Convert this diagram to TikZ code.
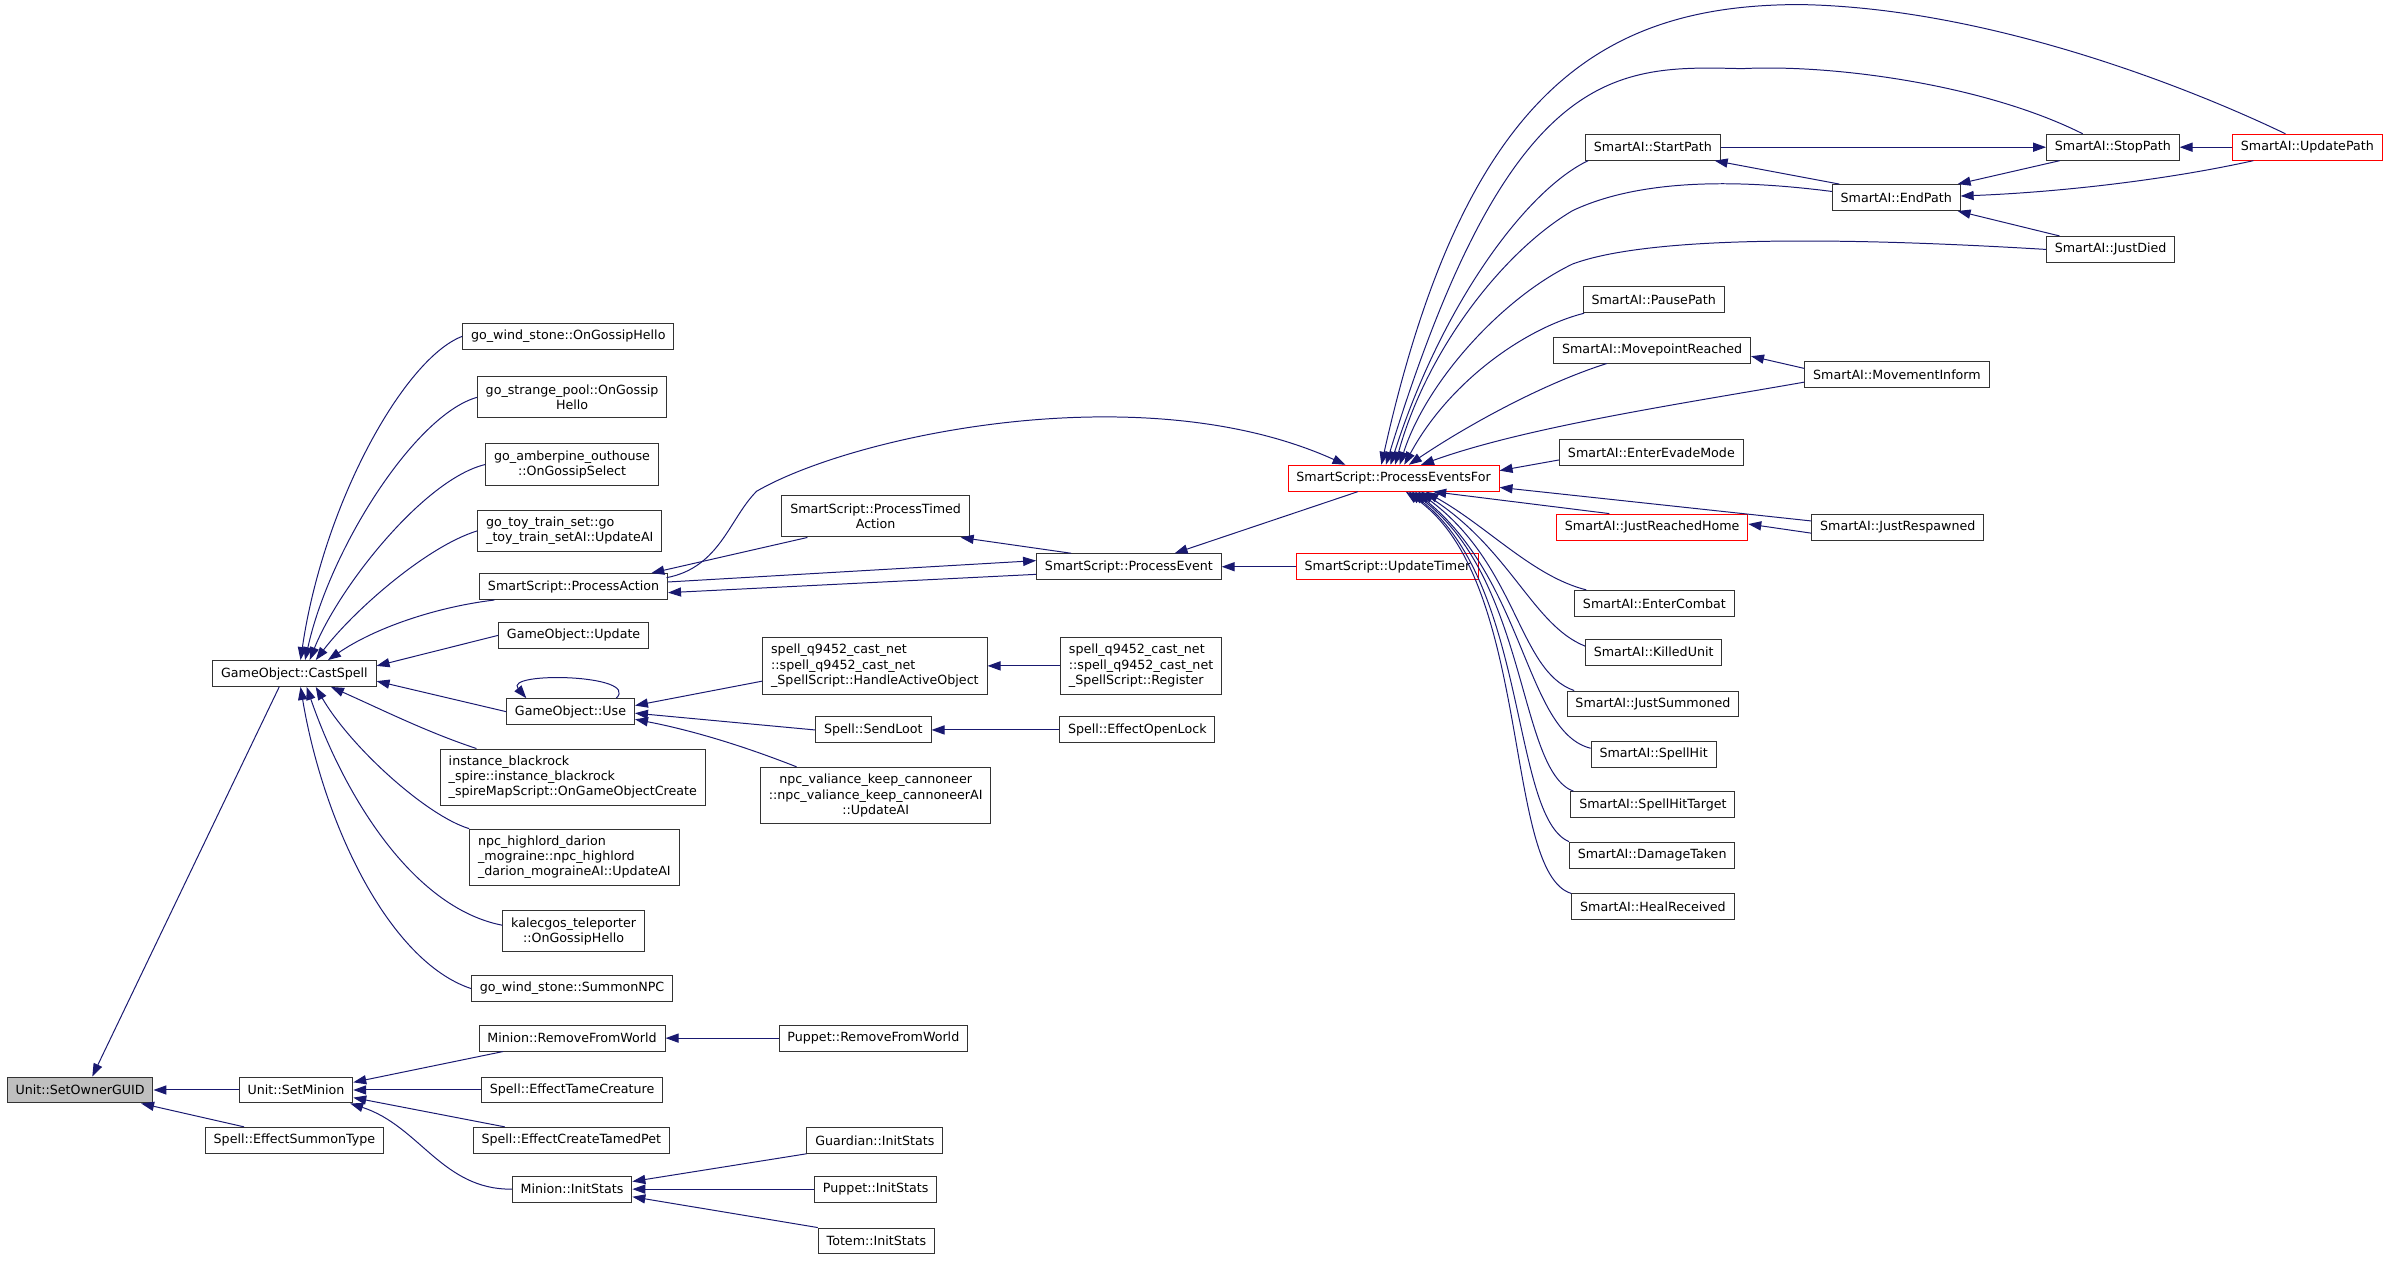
\documentclass[tikz,border=0pt]{standalone}
\usepackage{fontspec}
\newfontfamily\dxfont{DejaVu Sans}
\usetikzlibrary{calc, arrows.meta}
\definecolor{callblue}{RGB}{25,25,112}
\definecolor{rootgray}{RGB}{191,191,191}
\definecolor{refred}{RGB}{255,0,0}

\tikzset{
  fn/.style={draw=black!80, line width=0.65pt, fill=white, inner xsep=5.5pt, inner ysep=1pt,
    minimum height=17pt, font=\dxfont\fontsize{8.3}{10}\selectfont, align=center},
  fn2/.style={fn, minimum height=27pt},
  fn3/.style={fn, minimum height=37pt},
  leftl/.style={align=left},
  redfn/.style={draw=refred},
  rootfn/.style={fill=rootgray},
  callarr/.style={draw=callblue, line width=0.65pt, -{Triangle[length=8.5pt,width=6pt]}},
}

\begin{document}
\begin{tikzpicture}[x=1pt, y=-1pt]
\useasboundingbox (0,0) rectangle (1568,826);

% root and first level
\node[fn, rootfn] (setowner) at (52.5,714.5) {Unit::SetOwnerGUID};
\node[fn] (castspell) at (193,441.5) {GameObject::CastSpell};
\node[fn] (setminion) at (194,714.5) {Unit::SetMinion};
\node[fn] (summontype) at (193,747.5) {Spell::EffectSummonType};

% callers of CastSpell
\node[fn] (windhello) at (372.5,220.5) {go\_wind\_stone::OnGossipHello};
\node[fn2] (strangepool) at (375,260.5) {go\_strange\_pool::OnGossip\\Hello};
\node[fn2] (amberpine) at (375,304.5) {go\_amberpine\_outhouse\\::OnGossipSelect};
\node[fn2, leftl] (toytrain) at (373.5,348) {go\_toy\_train\_set::go\\\_toy\_train\_setAI::UpdateAI};
\node[fn] (procaction) at (376,384.5) {SmartScript::ProcessAction};
\node[fn] (goupdate) at (376,416.5) {GameObject::Update};
\node[fn] (gouse) at (374,466.5) {GameObject::Use};
\node[fn3, leftl] (blackrock) at (375.5,509.5) {instance\_blackrock\\\_spire::instance\_blackrock\\\_spireMapScript::OnGameObjectCreate};
\node[fn3, leftl] (highlord) at (376.5,562) {npc\_highlord\_darion\\\_mograine::npc\_highlord\\\_darion\_mograineAI::UpdateAI};
\node[fn2] (kalecgos) at (376,610.5) {kalecgos\_teleporter\\::OnGossipHello};
\node[fn] (summonnpc) at (375,648) {go\_wind\_stone::SummonNPC};

% callers of SetMinion
\node[fn] (minionremove) at (375,680.5) {Minion::RemoveFromWorld};
\node[fn] (tamecreature) at (375,714.5) {Spell::EffectTameCreature};
\node[fn] (tamedpet) at (374.5,747.5) {Spell::EffectCreateTamedPet};
\node[fn] (minioninit) at (375,779.5) {Minion::InitStats};

% third level
\node[fn2] (timedaction) at (574,338.5) {SmartScript::ProcessTimed\\Action};
\node[fn3, leftl] (handleobj) at (573.5,436.5) {spell\_q9452\_cast\_net\\::spell\_q9452\_cast\_net\\\_SpellScript::HandleActiveObject};
\node[fn] (sendloot) at (572.5,478.5) {Spell::SendLoot};
\node[fn3] (valiance) at (574,521.5) {npc\_valiance\_keep\_cannoneer\\::npc\_valiance\_keep\_cannoneerAI\\::UpdateAI};
\node[fn] (puppetremove) at (572.5,680.5) {Puppet::RemoveFromWorld};
\node[fn] (guardianinit) at (573.5,747.5) {Guardian::InitStats};
\node[fn] (puppetinit) at (574,779.5) {Puppet::InitStats};
\node[fn] (toteminit) at (574.5,813.5) {Totem::InitStats};

\node[fn] (procevent) at (740,371.5) {SmartScript::ProcessEvent};
\node[fn3, leftl] (register) at (748,436.5) {spell\_q9452\_cast\_net\\::spell\_q9452\_cast\_net\\\_SpellScript::Register};
\node[fn] (openlock) at (745.5,478.5) {Spell::EffectOpenLock};

\node[fn, redfn] (eventsfor) at (913.5,313.5) {SmartScript::ProcessEventsFor};
\node[fn, redfn] (updatetimer) at (909.5,371.5) {SmartScript::UpdateTimer};

% SmartAI hooks
\node[fn] (startpath) at (1083.5,96.5) {SmartAI::StartPath};
\node[fn] (pausepath) at (1084,196.5) {SmartAI::PausePath};
\node[fn] (movepoint) at (1083,229.5) {SmartAI::MovepointReached};
\node[fn] (evade) at (1082.5,296.5) {SmartAI::EnterEvadeMode};
\node[fn, redfn] (reachedhome) at (1083,345.5) {SmartAI::JustReachedHome};
\node[fn] (entercombat) at (1084.5,395.5) {SmartAI::EnterCombat};
\node[fn] (killedunit) at (1084,427.5) {SmartAI::KilledUnit};
\node[fn] (justsummoned) at (1083.5,461.5) {SmartAI::JustSummoned};
\node[fn] (spellhit) at (1084,494.5) {SmartAI::SpellHit};
\node[fn] (spellhittarget) at (1083.5,527.5) {SmartAI::SpellHitTarget};
\node[fn] (damagetaken) at (1083,560.5) {SmartAI::DamageTaken};
\node[fn] (healreceived) at (1083.5,594.5) {SmartAI::HealReceived};
\node[fn] (endpath) at (1243,129.5) {SmartAI::EndPath};
\node[fn] (movementinform) at (1243.5,245.5) {SmartAI::MovementInform};
\node[fn] (justrespawned) at (1244,345.5) {SmartAI::JustRespawned};
\node[fn] (stoppath) at (1385,96.5) {SmartAI::StopPath};
\node[fn] (justdied) at (1383.5,163.5) {SmartAI::JustDied};
\node[fn, redfn] (updatepath) at (1512.5,96.5) {SmartAI::UpdatePath};

% into SetOwnerGUID
\draw[callarr] ($(castspell.south)+(-10,0)$) -- ($(setowner.north)+(8,0)$);
\draw[callarr] (setminion) -- (setowner);
\draw[callarr] ($(summontype.north)+(-33,0)$) -- ($(setowner.south)+(40,0)$);

% into CastSpell
\draw[callarr] (windhello.west) .. controls (265,235) and (212,330) .. ($(castspell.north)+(4,0)$);
\draw[callarr] (strangepool.west) .. controls (272,272) and (216,360) .. ($(castspell.north)+(7,0)$);
\draw[callarr] (amberpine.west) .. controls (278,314) and (222,385) .. ($(castspell.north)+(10,0)$);
\draw[callarr] (toytrain.west) .. controls (280,358) and (232,400) .. ($(castspell.north)+(14,0)$);
\draw[callarr] ($(procaction.south west)+(10,0)$) .. controls (285,398) and (245,412) .. ($(castspell.north)+(22,0)$);
\draw[callarr] (goupdate.west) -- ($(castspell.east)+(0,-5)$);
\draw[callarr] (gouse.west) -- ($(castspell.east)+(0,5)$);
\draw[callarr] ($(blackrock.north west)+(24,0)$) .. controls (280,480) and (250,465) .. ($(castspell.south)+(24,0)$);
\draw[callarr] (highlord.north west) .. controls (280,535) and (230,490) .. ($(castspell.south)+(14,0)$);
\draw[callarr] ($(kalecgos.west)+(0,-4)$) .. controls (270,595) and (225,520) .. ($(castspell.south)+(8,0)$);
\draw[callarr] (summonnpc.west) .. controls (255,630) and (212,540) .. ($(castspell.south)+(4,0)$);

% into GameObject::Use
\draw[callarr] ($(gouse.north)+(30,0)$) .. controls (420,442) and (330,440) .. ($(gouse.north)+(-29,0)$);
\draw[callarr] ($(handleobj.west)+(0,10)$) -- ($(gouse.east)+(0,-4)$);
\draw[callarr] (sendloot.west) -- ($(gouse.east)+(0,1)$);
\draw[callarr] ($(valiance.north west)+(24,0)$) .. controls (495,492) and (460,480) .. ($(gouse.east)+(0,5)$);
\draw[callarr] (register) -- (handleobj);
\draw[callarr] (openlock) -- (sendloot);

% into SetMinion
\draw[callarr] (puppetremove) -- (minionremove);
\draw[callarr] ($(minionremove.south west)+(16,0)$) -- ($(setminion.east)+(0,-5)$);
\draw[callarr] (tamecreature) -- (setminion);
\draw[callarr] ($(tamedpet.north west)+(21,0)$) -- ($(setminion.east)+(0,5)$);
\draw[callarr] (minioninit.west) .. controls (290,780) and (275,738) .. ($(setminion.south east)+(-2,0)$);
\draw[callarr] (guardianinit.south west) -- ($(minioninit.east)+(0,-5)$);
\draw[callarr] (puppetinit) -- (minioninit);
\draw[callarr] (toteminit.north west) -- ($(minioninit.east)+(0,5)$);

% SmartScript loop
\draw[callarr] ($(timedaction.south west)+(17,0)$) -- ($(procaction.north east)+(-11,0)$);
\draw[callarr] ($(procevent.west)+(0,5)$) -- ($(procaction.east)+(0,4)$);
\draw[callarr] ($(procaction.east)+(0,-3)$) -- ($(procevent.west)+(0,-4)$);
\draw[callarr] ($(procaction.north east)+(-1,3)$) .. controls (472,372) and (478,340) .. (496,322)
  .. controls (560,285) and (750,245) .. ($(eventsfor.north west)+(38,0)$);
\draw[callarr] ($(eventsfor.south west)+(46,0)$) -- ($(procevent.north)+(30,0)$);
\draw[callarr] ($(procevent.north west)+(23,0)$) -- ($(timedaction.south east)+(-6,0)$);
\draw[callarr] (updatetimer) -- (procevent);

% into ProcessEventsFor, from above
\draw[callarr] ($(updatepath.north west)+(35,0)$) .. controls (1430,55) and (1300,5) .. (1180,3)
  .. controls (1050,3) and (960,60) .. ($(eventsfor.north)+(-8,0)$);
\draw[callarr] ($(stoppath.north west)+(24,0)$) .. controls (1300,55) and (1200,42) .. (1142,45)
  .. controls (1060,43) and (990,40) .. ($(eventsfor.north)+(-5,0)$);
\draw[callarr] ($(startpath.south west)+(2,0)$) .. controls (1000,125) and (945,200) .. ($(eventsfor.north)+(-2,0)$);
\draw[callarr] ($(endpath.west)+(0,-4)$) .. controls (1150,119) and (1080,115) .. (1031,138)
  .. controls (985,165) and (935,230) .. ($(eventsfor.north)+(1,0)$);
\draw[callarr] (justdied.west) .. controls (1200,155) and (1080,155) .. (1031,173)
  .. controls (985,195) and (935,250) .. ($(eventsfor.north)+(4,0)$);
\draw[callarr] ($(pausepath.south west)+(1,0)$) .. controls (1000,215) and (950,250) .. ($(eventsfor.north)+(7,0)$);
\draw[callarr] ($(movepoint.south west)+(35,0)$) .. controls (1010,252) and (960,280) .. ($(eventsfor.north)+(10,0)$);
\draw[callarr] ($(movementinform.west)+(0,5)$) .. controls (1100,265) and (1000,280) .. ($(eventsfor.north)+(18,0)$);
\draw[callarr] ($(evade.west)+(0,5)$) -- ($(eventsfor.east)+(0,-5)$);
\draw[callarr] ($(justrespawned.west)+(0,-4)$) -- ($(eventsfor.east)+(0,6)$);

% into ProcessEventsFor, from below
\draw[callarr] ($(reachedhome.north west)+(35,0)$) -- ($(eventsfor.south)+(26,0)$);
\draw[callarr] ($(entercombat.north west)+(8,0)$) .. controls (1005,378) and (975,345) .. ($(eventsfor.south)+(21,0)$);
\draw[callarr] ($(killedunit.west)+(0,-4)$) .. controls (1005,410) and (990,360) .. ($(eventsfor.south)+(18,0)$);
\draw[callarr] ($(justsummoned.north west)+(5,0)$) .. controls (995,440) and (995,370) .. ($(eventsfor.south)+(16,0)$);
\draw[callarr] ($(spellhit.west)+(0,-4)$) .. controls (1000,480) and (1000,380) .. ($(eventsfor.south)+(14,0)$);
\draw[callarr] ($(spellhittarget.north west)+(2,0)$) .. controls (995,505) and (1002,380) .. ($(eventsfor.south)+(12,0)$);
\draw[callarr] (damagetaken.north west) .. controls (990,535) and (1002,380) .. ($(eventsfor.south)+(10,0)$);
\draw[callarr] (healreceived.north west) .. controls (985,572) and (1005,380) .. ($(eventsfor.south)+(8,0)$);

% path handling
\draw[callarr] (startpath) -- (stoppath);
\draw[callarr] ($(endpath.north west)+(5,0)$) -- ($(startpath.south east)+(-4,0)$);
\draw[callarr] ($(stoppath.south west)+(9,0)$) -- ($(endpath.north east)+(-2,0)$);
\draw[callarr] (updatepath) -- (stoppath);
\draw[callarr] ($(updatepath.south west)+(14,0)$) .. controls (1420,118) and (1350,126) .. ($(endpath.east)+(0,-1)$);
\draw[callarr] ($(justdied.north west)+(9,0)$) -- ($(endpath.south east)+(-2,0)$);
\draw[callarr] ($(movementinform.west)+(0,-4)$) -- ($(movepoint.east)+(0,4)$);
\draw[callarr] ($(justrespawned.west)+(0,4)$) -- ($(reachedhome.east)+(0,-2)$);
\end{tikzpicture}
\end{document}
